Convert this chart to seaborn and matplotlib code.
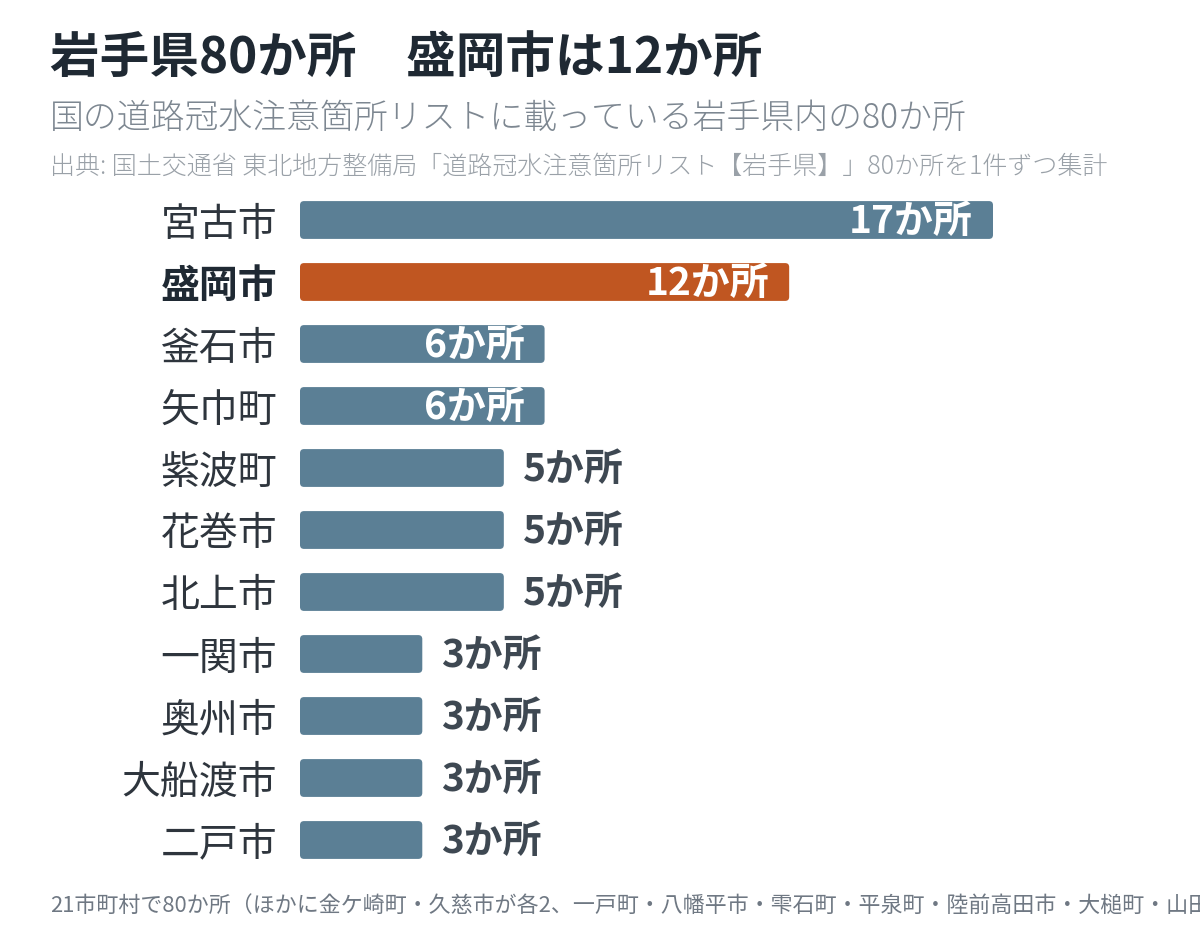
import matplotlib
matplotlib.use("Agg")
import matplotlib.pyplot as plt
from matplotlib.patches import FancyBboxPatch
import seaborn as sns
import pandas as pd

cities = ["宮古市", "盛岡市", "釜石市", "矢巾町", "紫波町", "花巻市", "北上市",
          "一関市", "奥州市", "大船渡市", "二戸市"]
counts = [17, 12, 6, 6, 5, 5, 5, 3, 3, 3, 3]
highlight = "盛岡市"
unit = "か所"

title = "岩手県80か所　盛岡市は12か所"
subtitle = "国の道路冠水注意箇所リストに載っている岩手県内の80か所"
source = "出典: 国土交通省 東北地方整備局「道路冠水注意箇所リスト【岩手県】」80か所を1件ずつ集計"
footnote = ("21市町村で80か所（ほかに金ケ崎町・久慈市が各2、一戸町・八幡平市・雫石町・"
            "平泉町・陸前高田市・大槌町・山田町ほかが各1）")

sns.set_theme(style="white")
plt.rcParams['font.family'] = ['Noto Sans CJK JP', 'DejaVu Sans']

BLUE = "#5b7f95"
ORANGE = "#c05621"
DARK = "#1f2933"
LABEL = "#2e353d"
VALUE = "#3e4852"

df = pd.DataFrame({"city": cities, "count": counts})
palette = {c: (ORANGE if c == highlight else BLUE) for c in cities}

W, H = 1200, 948
fig = plt.figure(figsize=(12, 9.48), dpi=100)
px_per_unit = (993 - 300) / 17
xmax = 21.6
left_px, top_px, bot_px = 300, 189, 871
ax = fig.add_axes([left_px / W, 1 - bot_px / H, xmax * px_per_unit / W, (bot_px - top_px) / H])

sns.barplot(data=df, x="count", y="city", hue="city", palette=palette, legend=False,
            orient="h", width=0.61, saturation=1, ax=ax)
ax.set_xlim(0, xmax)
ax.set_ylim(len(cities) - 0.5, -0.5)

# rounded corners
aspect = (1 / 62) / (1 / px_per_unit)
r = 4 / px_per_unit
for p in list(ax.patches):
    x, y = p.get_x(), p.get_y()
    w, h = p.get_width(), p.get_height()
    fc = p.get_facecolor()
    p.remove()
    fb = FancyBboxPatch((x, y), w, h, boxstyle=f"round,pad=0,rounding_size={r}",
                        mutation_aspect=aspect, facecolor=fc, edgecolor="none", zorder=2)
    ax.add_patch(fb)

ax.set_xlabel("")
ax.set_ylabel("")
ax.set_xticks([])
ax.tick_params(axis="y", length=0, pad=16.5)
for lab in ax.get_yticklabels():
    lab.set_fontsize(28)
    if lab.get_text() == highlight:
        lab.set_fontweight("bold")
        lab.set_color(DARK)
    else:
        lab.set_color(LABEL)
for s in ax.spines.values():
    s.set_visible(False)

for i, (c, v) in enumerate(zip(cities, counts)):
    txt = f"{v}{unit}"
    if v >= 6:
        ax.annotate(txt, (v, i), xytext=(-14.4, -1), textcoords="offset points",
                    ha="right", va="center", fontsize=28, fontweight="bold", color="white")
    else:
        ax.annotate(txt, (v, i), xytext=(13.7, -1), textcoords="offset points",
                    ha="left", va="center", fontsize=28, fontweight="bold", color=VALUE)

fig.text(50 / W, 1 - 58 / H, title, fontsize=35.7, fontweight="bold", color=DARK, va="center")
fig.text(50 / W, 1 - 118 / H, subtitle, fontsize=24.4, fontweight="light", color="#7d8791", va="center")
fig.text(50 / W, 1 - 166 / H, source, fontsize=18, fontweight="light", color="#9aa1a8", va="center")
fig.text(50 / W, 1 - 906 / H, footnote, fontsize=15.8, color="#6f7883", va="center")

fig.savefig("out.png", dpi=100, facecolor="white")
